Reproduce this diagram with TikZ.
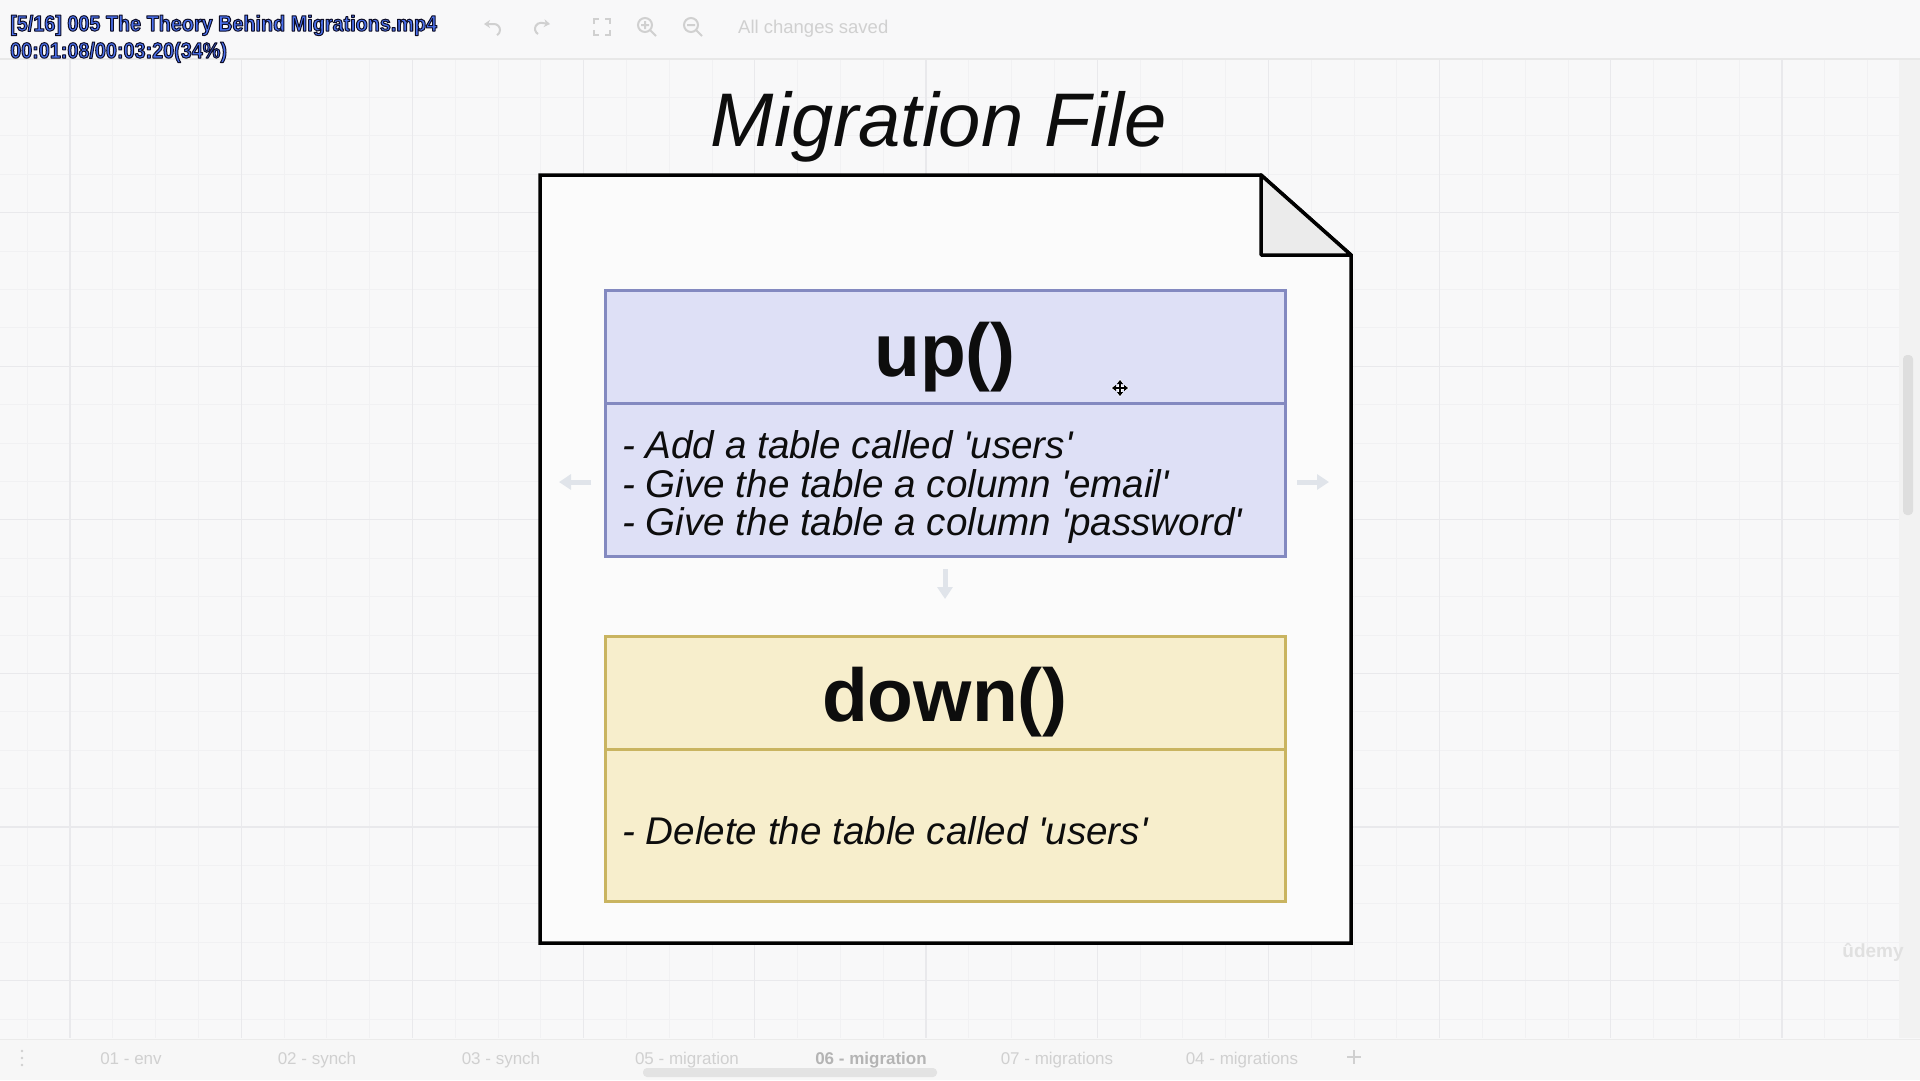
\documentclass[tikz,border=0pt]{standalone}
\usepackage{fontspec}
\setmainfont{Liberation Sans}
\newfontfamily\ovfont[FakeStretch=0.9]{Liberation Sans}
\usetikzlibrary{arrows.meta}
\definecolor{bgcol}{HTML}{F8F8F9}
\definecolor{gridminorc}{HTML}{F1F1F3}
\definecolor{gridmajorc}{HTML}{E9E9EC}
\definecolor{docfill}{HTML}{FBFBFB}
\definecolor{foldfill}{HTML}{EBEBEB}
\definecolor{upfill}{HTML}{DEE0F6}
\definecolor{upline}{HTML}{8389C0}
\definecolor{downfill}{HTML}{F7EECC}
\definecolor{downline}{HTML}{C9B460}
\definecolor{hintc}{HTML}{E0E4EA}
\definecolor{uigray}{HTML}{D0D0D0}
\definecolor{uidark}{HTML}{B4B4B4}
\definecolor{overlayc}{HTML}{4A70EE}
\newcommand{\sq}{\textquotesingle}
\newcommand{\outlinetext}[1]{\special{pdf:literal direct 2 Tr 1.0 w 1 j 0.05 0.05 0.15 RG}#1\special{pdf:literal direct 0 Tr}}
\tikzset{
  gridminor/.style={draw=gridminorc, line width=1pt},
  gridmajor/.style={draw=gridmajorc, line width=1.2pt},
  docline/.style={draw=black, line width=3.5pt, fill=docfill},
  foldline/.style={draw=black, line width=3.5pt, fill=foldfill, line join=round},
  headbox/.style={line width=3pt, minimum width=680pt, inner sep=0pt},
  upstyle/.style={fill=upfill, draw=upline},
  downstyle/.style={fill=downfill, draw=downline},
  headtext/.style={font=\fontsize{75}{80}\selectfont\bfseries, anchor=base, inner sep=0pt, text=black!95},
  listtext/.style={font=\fontsize{38.6}{38.5}\selectfont\itshape, align=left, inner sep=0pt, text=black!95},
  hintarrow/.style={draw=hintc, line width=5pt, -{Triangle[length=12pt,width=15pt]}},
  uiicon/.style={draw=uigray, line width=2pt},
  uitext/.style={text=uigray, inner sep=0pt},
  tablabel/.style={font=\fontsize{17}{18}\selectfont, text=uigray, inner sep=0pt, anchor=base},
  cursorline/.style={line width=2pt, {Triangle[length=4pt,width=6pt]}-{Triangle[length=4pt,width=6pt]}},
}
\begin{document}
\begin{tikzpicture}[x=1pt,y=-1pt]
\path[use as bounding box] (0,0) rectangle (1920,1080);
\fill[bgcol] (0,0) rectangle (1920,1080);
% grid
\foreach \i in {0,...,43} {
  \pgfmathsetmacro\gx{27.2+42.8*\i}
  \draw[gridminor] (\gx,59) -- (\gx,1038);
}
\foreach \k in {1,...,25} {
  \pgfmathsetmacro\gy{59+38.4*\k}
  \draw[gridminor] (0,\gy) -- (1899,\gy);
}
\foreach \i in {0,...,10} {
  \pgfmathsetmacro\gx{70+171.2*\i}
  \draw[gridmajor] (\gx,59) -- (\gx,1038);
}
\foreach \k in {1,...,6} {
  \pgfmathsetmacro\gy{59+153.6*\k}
  \draw[gridmajor] (0,\gy) -- (1899,\gy);
}
% right strip and scrollbar
\fill[black!5] (1899,59) rectangle (1920,1038);
\fill[black!13, rounded corners=4pt] (1903,355) rectangle (1913,515);
% toolbar
\draw[black!9, line width=1.2pt] (0,59) -- (1920,59);
\draw[uiicon, {Stealth[length=6pt,width=8pt]}-] (484,24) -- (494,24) arc[start angle=90, end angle=-60, radius=6pt];
\draw[uiicon, -{Stealth[length=6pt,width=8pt]}] (538,34) arc[start angle=240, end angle=90, radius=6pt] -- (550,24);
\draw[uiicon] (594,24) -- (594,19) -- (599,19) (605,19) -- (610,19) -- (610,24) (610,30) -- (610,35) -- (605,35) (599,35) -- (594,35) -- (594,30);
\draw[uiicon] (645,25) circle[radius=7pt] (650,30) -- (656,36) (641,25) -- (649,25) (645,21) -- (645,29);
\draw[uiicon] (691,25) circle[radius=7pt] (696,30) -- (702,36) (687,25) -- (695,25);
\node[uitext, font=\fontsize{18.5}{20}\selectfont, anchor=base west] (saved) at (738,33) {All changes saved};
% overlay text
\node[font=\ovfont\bfseries\fontsize{22}{27}\selectfont, text=overlayc, anchor=base west, inner sep=0pt] (ov1) at (10,31) {\outlinetext{[5/16] 005 The Theory Behind Migrations.mp4}};
\node[font=\ovfont\bfseries\fontsize{22}{27}\selectfont, text=overlayc, anchor=base west, inner sep=0pt] (ov2) at (10,58) {\outlinetext{00:01:08/00:03:20(34\%)}};
% bottom tabs
\fill[black!3] (0,1039) rectangle (1920,1080);
\draw[black!8, line width=1pt] (0,1039) -- (1920,1039);
\fill[uigray] (22,1051) circle[radius=1.4pt] (22,1058) circle[radius=1.4pt] (22,1065) circle[radius=1.4pt];
\node[tablabel] (tab1) at (131,1064) {01 - env};
\node[tablabel] (tab2) at (317,1064) {02 - synch};
\node[tablabel] (tab3) at (501,1064) {03 - synch};
\node[tablabel] (tab4) at (687,1064) {05 - migration};
\node[tablabel, font=\fontsize{17}{18}\selectfont\bfseries, text=uidark] (tab5) at (871,1064) {06 - migration};
\node[tablabel] (tab6) at (1057,1064) {07 - migrations};
\node[tablabel] (tab7) at (1242,1064) {04 - migrations};
\draw[uiicon, line width=2.5pt] (1347,1057) -- (1361,1057) (1354,1050) -- (1354,1064);
\fill[black!11, rounded corners=4pt] (643,1068) rectangle (937,1077);
% watermark
\node[font=\fontsize{19}{20}\selectfont\bfseries, text=black!12, anchor=base] (udemy) at (1873,957) {\^{u}demy};
% title
\node[font=\fontsize{76}{80}\selectfont\itshape, anchor=base, inner sep=0pt, text=black!95] (title) at (939,146) {Migration File};
% document with folded corner
\draw[docline] (540,175) -- (1261,175) -- (1351,255) -- (1351,943) -- (540,943) -- cycle;
\draw[foldline] (1261,175) -- (1261,255) -- (1351,255) -- cycle;
\coordinate (doc) at (945,559);
% up()
\node[headbox, upstyle, minimum height=113pt] (uphead) at (945.5,347) {};
\node[headbox, upstyle, minimum height=153pt] (upbody) at (945.5,480) {};
\node[headtext] (uplabel) at (945,376) {up()};
\node[listtext, anchor=west] (uplist) at (622,487.5) {- Add a table called \sq users\sq\\- Give the table a column \sq email\sq\\- Give the table a column \sq password\sq};
% down()
\node[headbox, downstyle, minimum height=113pt] (downhead) at (945.5,692.5) {};
\node[headbox, downstyle, minimum height=152pt] (downbody) at (945.5,825.5) {};
\node[headtext] (downlabel) at (945,721) {down()};
\node[listtext, anchor=base west] (downlist) at (622,844) {- Delete the table called \sq users\sq};
% faint hover arrows
\coordinate (hLs) at (591,482); \coordinate (hLe) at (559,482);
\coordinate (hRs) at (1297,482); \coordinate (hRe) at (1329,482);
\coordinate (hDs) at (945,569); \coordinate (hDe) at (945,599);
\draw[hintarrow] (hLs) -- (hLe);
\draw[hintarrow] (hRs) -- (hRe);
\draw[hintarrow] (hDs) -- (hDe);
% move cursor
\coordinate (cur) at (1120,388);
\draw[cursorline, white, line width=4pt] ([xshift=-9pt]cur) -- ([xshift=9pt]cur);
\draw[cursorline, white, line width=4pt] ([yshift=-9pt]cur) -- ([yshift=9pt]cur);
\draw[cursorline] ([xshift=-8pt]cur) -- ([xshift=8pt]cur);
\draw[cursorline] ([yshift=-8pt]cur) -- ([yshift=8pt]cur);
\end{tikzpicture}
\end{document}
